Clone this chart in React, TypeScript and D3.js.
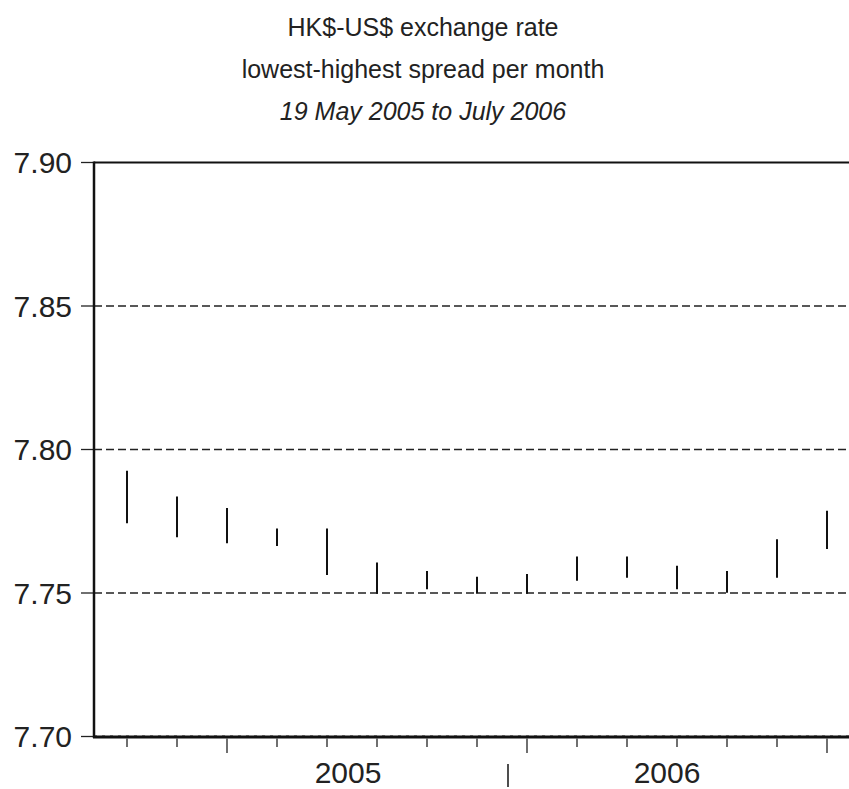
import React, { useEffect, useRef } from "react";
import * as d3 from "d3";

// months May 2005 .. July 2006
const months = ["2005-05", "2005-06", "2005-07", "2005-08", "2005-09", "2005-10", "2005-11", "2005-12",
  "2006-01", "2006-02", "2006-03", "2006-04", "2006-05", "2006-06", "2006-07"];
const highs = [7.7926, 7.7836, 7.7796, 7.7725, 7.7725, 7.7606, 7.7577, 7.7557, 7.7566, 7.7627, 7.7627, 7.7595, 7.7577, 7.7687, 7.7787];
const lows = [7.7743, 7.7694, 7.7673, 7.7664, 7.7563, 7.7497, 7.7513, 7.7497, 7.7497, 7.7543, 7.7553, 7.7513, 7.7501, 7.7553, 7.7653];
const yTicks = [7.70, 7.75, 7.80, 7.85, 7.90];
const majorMonths = ["2005-07", "2006-01", "2006-07"];
// year labels placed at fractional month index
const yearLabels: [string, number][] = [["2005", 4.42], ["2006", 10.8]];
const yearSeparator = 7.62;
const titleLines = ["HK$-US$ exchange rate", "lowest-highest spread per month", "19 May 2005 to July 2006"];

const W = 849, H = 789;
const FONT = "'Liberation Sans', Arial, Helvetica, sans-serif";

function App() {
  const ref = useRef<SVGSVGElement>(null);

  useEffect(() => {
    document.body.style.margin = "0";
    const svg = d3.select(ref.current);
    svg.selectAll("*").remove();

    const left = 94, top = 162.5, bottom = 736.5, right = W;
    const y = d3.scaleLinear().domain([7.70, 7.90]).range([bottom, top]);
    const x = d3.scalePoint().domain(months).range([127, 827]);
    const xi = d3.scaleLinear().domain([0, months.length - 1]).range([127, 827]);

    // title
    svg.append("g").selectAll("text").data(titleLines).enter().append("text")
      .attr("x", 423)
      .attr("y", (d, i) => 36 + i * 42)
      .attr("text-anchor", "middle")
      .style("font-family", FONT)
      .style("font-size", "25px")
      .style("font-style", (d, i) => (i === 2 ? "italic" : "normal"))
      .style("fill", "#222")
      .text(d => d);

    // gridlines
    svg.append("g").selectAll("line").data(yTicks.filter(t => t > 7.70 && t < 7.90)).enter().append("line")
      .attr("x1", left).attr("x2", right)
      .attr("y1", d => y(d)).attr("y2", d => y(d))
      .attr("stroke", "#222").attr("stroke-width", 1.3)
      .attr("stroke-dasharray", "8,4");
    svg.append("line")
      .attr("x1", left).attr("x2", right).attr("y1", bottom - 1).attr("y2", bottom - 1)
      .attr("stroke", "#999").attr("stroke-width", 1).attr("stroke-dasharray", "3,5");

    // y axis ticks + labels
    const ya = svg.append("g");
    ya.selectAll("line").data(yTicks).enter().append("line")
      .attr("x1", 81).attr("x2", left)
      .attr("y1", d => y(d)).attr("y2", d => y(d))
      .attr("stroke", "#222").attr("stroke-width", 1.3);
    ya.selectAll("text").data(yTicks).enter().append("text")
      .attr("x", 72).attr("y", d => y(d))
      .attr("dy", "0.36em")
      .attr("text-anchor", "end")
      .style("font-family", FONT)
      .style("font-size", "30px")
      .style("fill", "#222")
      .text(d => d3.format(".2f")(d));

    // spread bars
    svg.append("g").selectAll("line").data(months).enter().append("line")
      .attr("x1", d => x(d)!).attr("x2", d => x(d)!)
      .attr("y1", (d, i) => y(highs[i])).attr("y2", (d, i) => y(lows[i]))
      .attr("stroke", "#111").attr("stroke-width", 2);

    // frame
    svg.append("line").attr("x1", left).attr("x2", right).attr("y1", top).attr("y2", top)
      .attr("stroke", "#111").attr("stroke-width", 2.2);
    svg.append("line").attr("x1", left).attr("x2", left).attr("y1", top - 1).attr("y2", bottom + 1.5)
      .attr("stroke", "#111").attr("stroke-width", 2.5);
    svg.append("line").attr("x1", left - 1).attr("x2", right).attr("y1", bottom + 0.5).attr("y2", bottom + 0.5)
      .attr("stroke", "#111").attr("stroke-width", 2.8);

    // x ticks
    svg.append("g").selectAll("line").data(months).enter().append("line")
      .attr("x1", d => x(d)!).attr("x2", d => x(d)!)
      .attr("y1", bottom + 2).attr("y2", d => (majorMonths.includes(d) ? 753 : 747))
      .attr("stroke", "#222").attr("stroke-width", 1.3);

    // year labels
    svg.append("g").selectAll("text").data(yearLabels).enter().append("text")
      .attr("x", d => xi(d[1])).attr("y", 783)
      .attr("text-anchor", "middle")
      .style("font-family", FONT)
      .style("font-size", "30px")
      .style("fill", "#222")
      .text(d => d[0]);
    svg.append("line")
      .attr("x1", xi(yearSeparator)).attr("x2", xi(yearSeparator))
      .attr("y1", 764).attr("y2", 787)
      .attr("stroke", "#222").attr("stroke-width", 1.6);
  }, []);

  return <svg ref={ref} width={W} height={H} style={{ display: "block", background: "#fff" }} />;
}

export default App;
